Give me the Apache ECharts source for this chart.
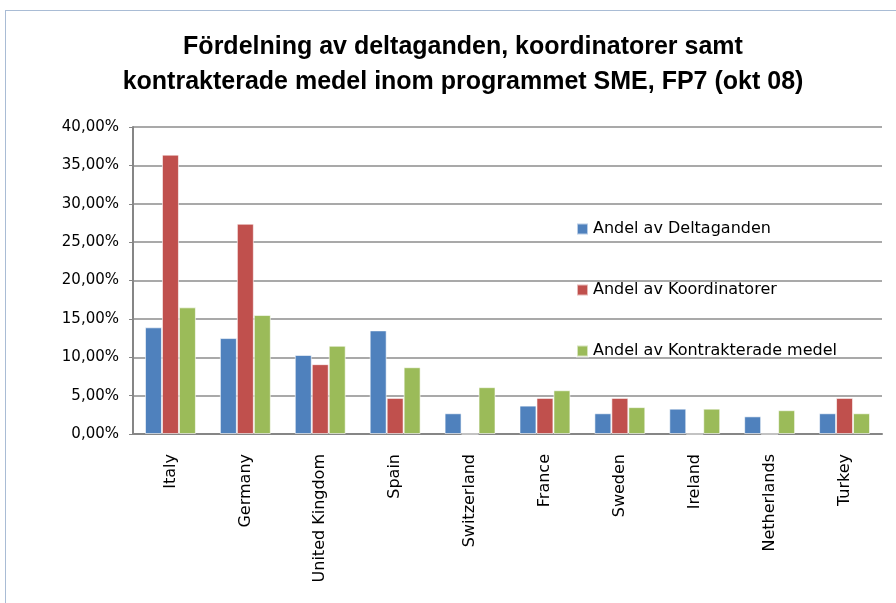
<!DOCTYPE html>
<html>
<head>
<meta charset="utf-8">
<script src="https://cdn.jsdelivr.net/npm/echarts@6/dist/echarts.min.js"></script>
<style>
  html, body { margin: 0; padding: 0; background: #fff; }
  #frame { position: absolute; left: 5px; top: 10px; width: 900px; height: 600px; border: 1px solid #a9bcd5; box-sizing: border-box; }
  #chart { position: absolute; left: 0; top: 0; width: 896px; height: 603px; }
</style>
</head>
<body>
<div id="frame"></div>
<div id="chart"></div>
<script>
const countries = ['Italy', 'Germany', 'United Kingdom', 'Spain', 'Switzerland', 'France', 'Sweden', 'Ireland', 'Netherlands', 'Turkey'];
const deltaganden = [13.9, 12.5, 10.3, 13.5, 2.7, 3.7, 2.7, 3.3, 2.3, 2.7];
const koordinatorer = [36.4, 27.4, 9.1, 4.7, 0, 4.7, 4.7, 0, 0, 4.7];
const kontrakterade = [16.5, 15.5, 11.5, 8.7, 6.1, 5.7, 3.5, 3.3, 3.1, 2.7];
const seriesNames = ['Andel av Deltaganden', 'Andel av Koordinatorer', 'Andel av Kontrakterade medel'];

let mychart = echarts.init(document.getElementById('chart'));
const barStyle = (color) => ({ color: color, borderColor: 'rgba(255,255,255,0.6)', borderWidth: 1 });

let option = {
    animation: false,
    title: {
        text: 'Fördelning av deltaganden, koordinatorer samt\nkontrakterade medel inom programmet SME, FP7 (okt 08)',
        left: 458,
        top: 25,
        textAlign: 'center',
        textStyle: {
            fontFamily: 'Liberation Sans',
            fontWeight: 'bold',
            fontSize: 25,
            lineHeight: 35,
            color: '#000'
        }
    },
    legend: {
        data: seriesNames,
        orient: 'vertical',
        left: 571,
        top: 216,
        itemGap: 45,
        itemWidth: 11,
        itemHeight: 11,
        icon: 'rect',
        textStyle: { fontFamily: 'DejaVu Sans', fontSize: 16, color: '#000' }
    },
    grid: { left: 133, right: 14, top: 127, bottom: 169 },
    xAxis: {
        type: 'category',
        data: countries,
        axisLine: { lineStyle: { color: '#868686', width: 2 } },
        axisTick: { show: false },
        axisLabel: {
            rotate: 90,
            margin: 20,
            fontFamily: 'DejaVu Sans',
            fontSize: 16,
            color: '#000'
        }
    },
    yAxis: {
        type: 'value',
        min: 0,
        max: 40,
        interval: 5,
        axisLine: { show: true, lineStyle: { color: '#868686', width: 2 } },
        axisTick: { show: true, length: 4, lineStyle: { color: '#868686' } },
        splitLine: { lineStyle: { color: '#8c8c8c', width: 1.5 } },
        axisLabel: {
            margin: 14,
            fontFamily: 'DejaVu Sans',
            fontSize: 15,
            color: '#000',
            formatter: (v) => v.toFixed(2).replace('.', ',') + '%'
        }
    },
    series: [
        { name: seriesNames[0], type: 'bar', data: deltaganden, barGap: '0%', barCategoryGap: '32%', itemStyle: barStyle('#4f81bd') },
        { name: seriesNames[1], type: 'bar', data: koordinatorer, itemStyle: barStyle('#c0504d') },
        { name: seriesNames[2], type: 'bar', data: kontrakterade, itemStyle: barStyle('#9bbb59') }
    ]
};
mychart.setOption(option);
window.addEventListener('resize', () => {
    mychart.resize();
})
</script>
</body>
</html>
